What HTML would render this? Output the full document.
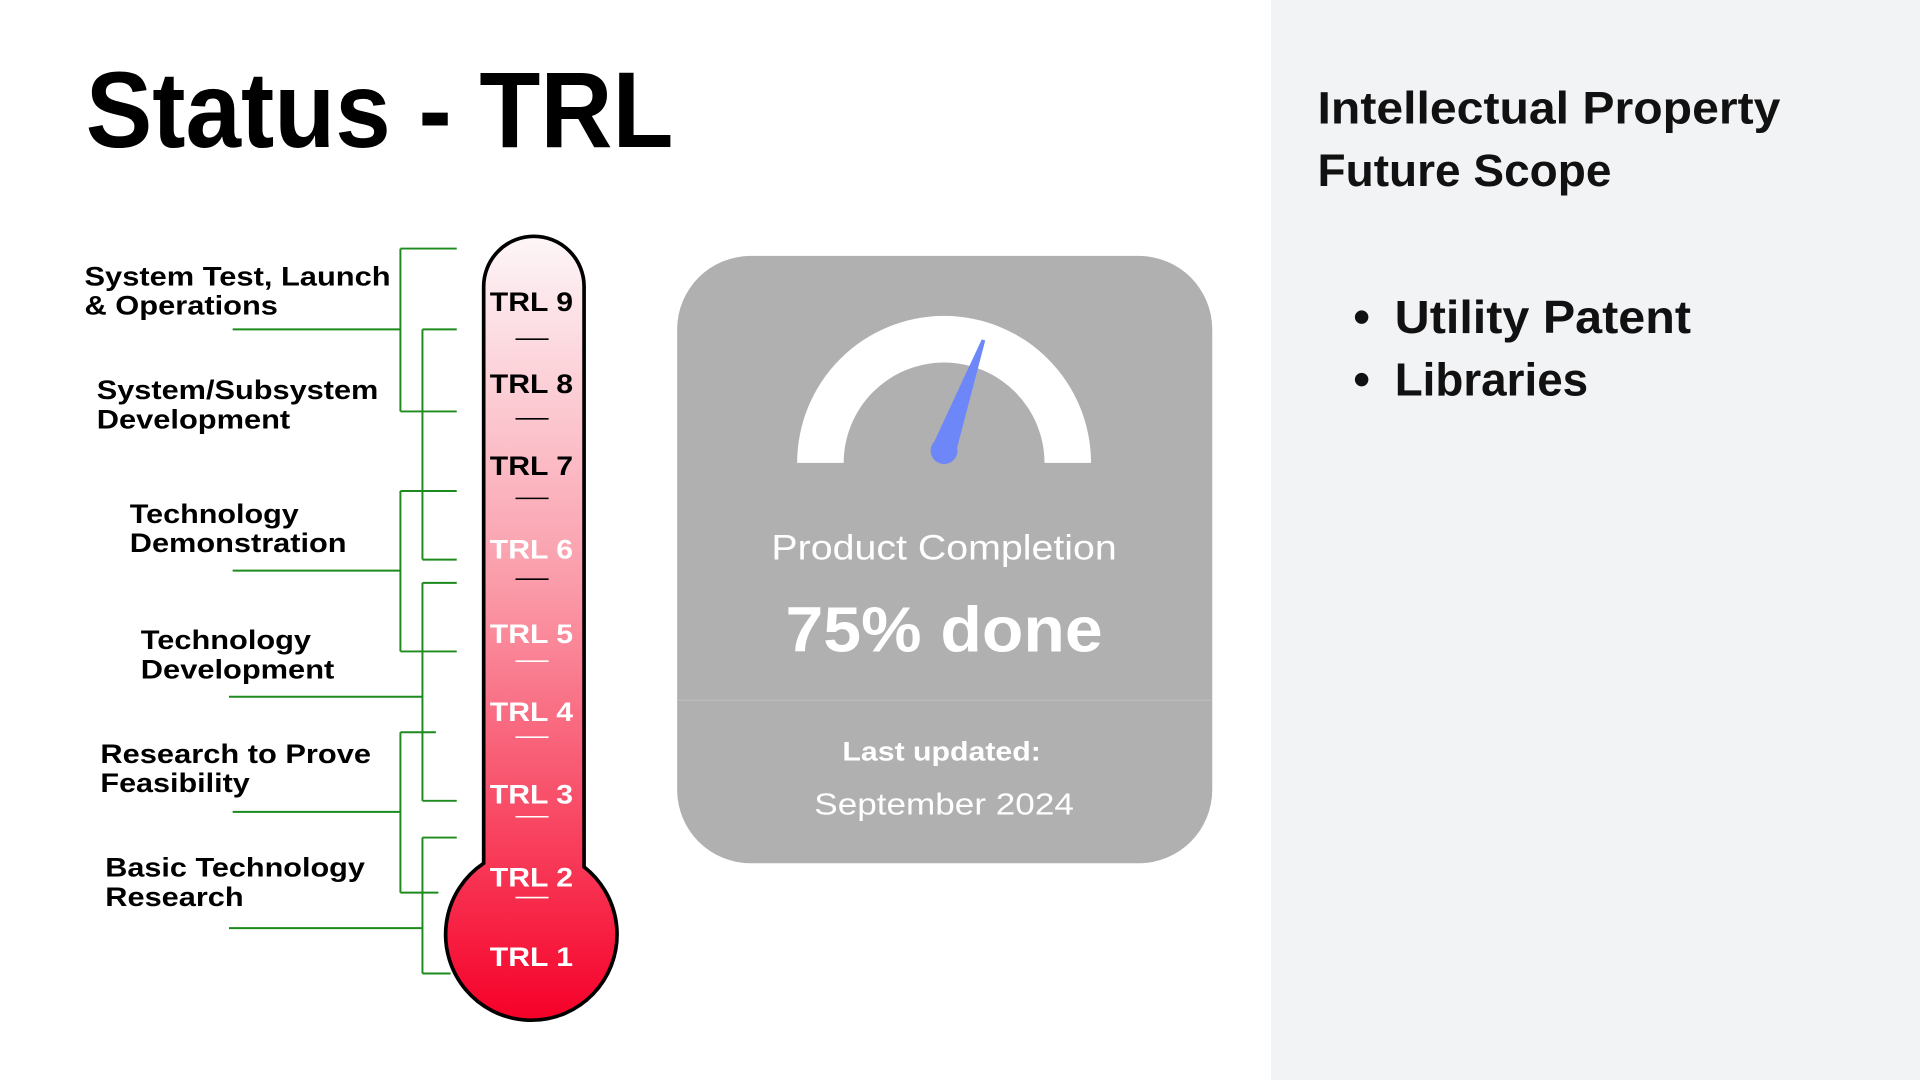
<!DOCTYPE html>
<html><head><meta charset="utf-8"><style>
html,body{margin:0;padding:0;background:#fff;}
svg{display:block;font-family:"Liberation Sans",sans-serif;}
</style></head><body>
<svg id="root" width="1920" height="1080" viewBox="0 0 1568 882" xmlns="http://www.w3.org/2000/svg">
<defs>
<linearGradient id="tg" x1="0" y1="0" x2="0" y2="1">
<stop offset="0" stop-color="#fdf6f8"/><stop offset="0.45" stop-color="#fa9aa8"/><stop offset="1" stop-color="#f60028"/>
</linearGradient>
</defs>
<rect x="0" y="0" width="1568" height="882" fill="#ffffff"/>
<rect x="1038" y="0" width="530" height="882" fill="#f2f3f5"/>
<text x="70" y="120" font-size="88" font-weight="bold" fill="#000" textLength="480" lengthAdjust="spacingAndGlyphs">Status - TRL</text>

<g font-size="37" font-weight="bold" fill="#111">
<text x="1076" y="101" textLength="378" lengthAdjust="spacingAndGlyphs">Intellectual Property</text>
<text x="1076" y="152" textLength="240" lengthAdjust="spacingAndGlyphs">Future Scope</text>
</g>
<g font-size="38" font-weight="bold" fill="#111">
<circle cx="1112" cy="259" r="5.5" fill="#111"/>
<text x="1139" y="272" textLength="242" lengthAdjust="spacingAndGlyphs">Utility Patent</text>
<circle cx="1112" cy="310" r="5.5" fill="#111"/>
<text x="1139" y="323" textLength="158" lengthAdjust="spacingAndGlyphs">Libraries</text>
</g>

<g id="brackets" stroke="#1c8a1c" stroke-width="1.6" fill="none"></g>
<g id="labels" font-size="22" font-weight="bold" fill="#000"></g>

<path d="M395,705 L395,234 A41,41 0 0 1 477,234 L477,708 A70,70 0 1 1 395,705 Z" fill="url(#tg)" stroke="#000" stroke-width="3"/>
<g id="trl" font-size="22" font-weight="bold"></g>

<g>
<rect x="553" y="209" width="437" height="496" rx="60" fill="#b0b0b0"/>
<line x1="553" y1="572" x2="990" y2="572" stroke="#bcbcbc" stroke-width="1"/>
<path d="M651,378 A120,120 0 0 1 891,378 L853,378 A82,82 0 0 0 689,378 Z" fill="#fff"/>
<g id="needle"></g>
<text x="771" y="457" text-anchor="middle" font-size="29" fill="#fff" textLength="282" lengthAdjust="spacingAndGlyphs">Product Completion</text>
<text id="pct" x="771" y="532" text-anchor="middle" font-size="52" font-weight="bold" fill="#fff" textLength="259" lengthAdjust="spacingAndGlyphs">75% done</text>
<text x="769" y="621" text-anchor="middle" font-size="22" font-weight="bold" fill="#fff" textLength="162" lengthAdjust="spacingAndGlyphs">Last updated:</text>
<text x="771" y="665" text-anchor="middle" font-size="25" fill="#fff" textLength="212" lengthAdjust="spacingAndGlyphs">September 2024</text>
</g>
</svg>
<script>
const trlLevels = ["TRL 9","TRL 8","TRL 7","TRL 6","TRL 5","TRL 4","TRL 3","TRL 2","TRL 1"];
const trlDarkText = [true,true,true,false,false,false,false,false,false];
const phaseLines = [["System Test, Launch","& Operations"],["System/Subsystem","Development"],["Technology","Demonstration"],["Technology","Development"],["Research to Prove","Feasibility"],["Basic Technology","Research"]];
const completionPercent = 75;
const needlePercent = 61;

const NS="http://www.w3.org/2000/svg";
function mk(tag,attrs,parent){const e=document.createElementNS(NS,tag);for(const k in attrs)e.setAttribute(k,attrs[k]);parent.appendChild(e);return e;}
function levelY(i){const ys=[246,313,380,448,517,581,648,716,781];return ys[i];}
const trlG=document.getElementById('trl');
trlLevels.forEach((t,i)=>{
  const y=levelY(i);
  const col=trlDarkText[i]?"#000":"#fff";
  const tx=mk('text',{x:434,y:y+8,'text-anchor':'middle',fill:col,textLength:68,lengthAdjust:'spacingAndGlyphs'},trlG);
  tx.textContent=t;
  
  
  if(i<trlLevels.length-1){
    const dy=y+31-i*2;
    const ln=mk('line',{x1:421,x2:448,y1:dy,y2:dy,stroke:(i<4?"#000":"#fff"),'stroke-width':1.3},trlG);
    
    
  }
});
const bG=document.getElementById('brackets');
const segs=[[327,203,373,203],[190,269,327,269],[345,269,373,269],[327,336,373,336],[327,401,373,401],[345,457,373,457],[190,466,327,466],[345,476,373,476],[327,532,373,532],[187,569,345,569],[327,598,356,598],[345,654,373,654],[190,663,327,663],[345,684,373,684],[327,729,358,729],[187,758,345,758],[345,795,368,795],
[327,203,327,336],[327,401,327,532],[327,598,327,729],[345,269,345,457],[345,476,345,654],[345,684,345,795]];
segs.forEach(s=>{const l=mk('line',{x1:s[0],y1:s[1],x2:s[2],y2:s[3]},bG);
  
  });
const lG=document.getElementById('labels');
const lx=[69,79,106,115,82,86], by=[233,326,427,530,623,716];
const w1=[250,230,138,139,221,212], w2=[158,158,177,158,122,113];
phaseLines.forEach((p,i)=>{
  const a=mk('text',{x:lx[i],y:by[i],textLength:w1[i],lengthAdjust:'spacingAndGlyphs'},lG);a.textContent=p[0];
  
  
  const b=mk('text',{x:lx[i],y:by[i]+24,textLength:w2[i],lengthAdjust:'spacingAndGlyphs'},lG);b.textContent=p[1];
  
  
});
const nG=document.getElementById('needle');
const ang=Math.PI*(1-needlePercent/100);
const cx=771,cy=367,L=95;
const tx=cx+L*Math.cos(ang), ty=cy-L*Math.sin(ang);
const px=Math.sin(ang), py=Math.cos(ang);
const d=`M${cx-10*px},${cy-10*py} L${tx-1.5*px},${ty-1.5*py} L${tx+1.5*px},${ty+1.5*py} L${cx+10*px},${cy+10*py} Z`;
const np=mk('path',{d:d,fill:'#6d87f9'},nG);


const nc=mk('circle',{cx:cx,cy:cy+1,r:11,fill:'#6d87f9'},nG);


document.getElementById('pct').textContent=completionPercent+"% done";
</script>
</body></html>
